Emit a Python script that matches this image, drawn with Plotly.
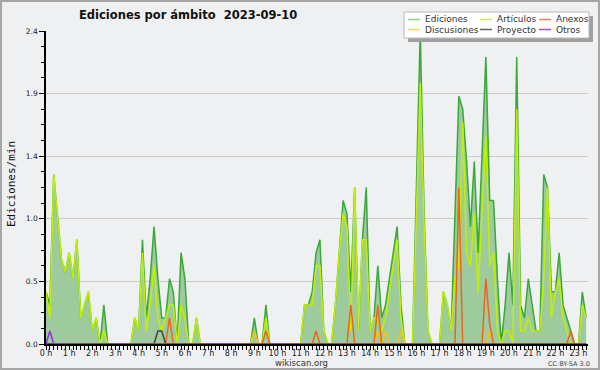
import plotly.graph_objects as go

# 10-minute buckets, edits per minute
ediciones = [
    .4, .3, 1.3, .95, .65, .55, .7, .5, .8, .2,
    .3, .4, .1, .2, 0, .3, 0, 0, 0, 0,
    0, 0, 0, .2, .1, .8, .2, .5, .9, .5,
    .2, .2, .5, .4, 0, .7, .5, 0, 0, .2,
    0, 0, 0, 0, 0, 0, 0, 0, 0, 0,
    0, 0, 0, 0, .2, 0, 0, .3, 0, 0,
    0, 0, 0, 0, 0, 0, 0, .3, .3, .4,
    .7, .8, .1, 0, 0, .3, .7, 1.1, 1.0, .4,
    1.2, .1, .8, 1.2, .1, .2, .6, .2, .3, .5,
    .7, .9, .3, 0, 0, 0, 1.2, 2.4, 1.0, .1,
    0, 0, 0, .4, .3, .1, 1.0, 1.9, 1.8, 1.4,
    .9, 1.4, .7, 1.4, 2.2, 1.1, 1.1, .5, 0, .3,
    .7, .3, 2.2, .3, .2, .5, .3, .1, .1, 1.3,
    1.2, .4, .4, .7, .3, .2, .1, 0, 0, .4,
    .2,
]
articulos = [
    .4, .2, 1.3, .95, .65, .55, .7, .5, .8, .2,
    .3, .4, .1, .2, 0, .1, 0, 0, 0, 0,
    0, 0, 0, .2, .1, .7, .1, .3, .6, .2,
    .1, .2, .3, .3, 0, .3, .2, 0, 0, .2,
    0, 0, 0, 0, 0, 0, 0, 0, 0, 0,
    0, 0, 0, 0, .1, 0, 0, .2, 0, 0,
    0, 0, 0, 0, 0, 0, 0, .3, .3, .3,
    .6, .6, .1, 0, 0, .3, .7, 1.0, .9, .1,
    1.2, .1, .8, .8, .1, .2, .2, .1, .2, .4,
    .6, .8, .2, 0, 0, 0, 1.0, 2.0, .9, .1,
    0, 0, 0, .4, .3, .1, .5, .6, 1.7, .7,
    .6, 1.0, .4, 1.0, 1.6, .6, .7, .1, 0, .1,
    .1, 0, 1.8, .1, .1, .2, .1, .1, .1, .5,
    1.2, .2, .4, .5, .2, .1, 0, 0, 0, .3,
    .2,
]
anexos_idx = [32, 57, 70, 79, 86, 107, 114, 115, 136]
anexos_val = [.2, .1, .1, .3, .3, 1.2, .5, .15, .1]
discusiones_idx = [54, 86, 88, 92, 115]
discusiones_val = [.1, .1, .1, .1, .1]
proyecto_idx = [29, 30]
proyecto_val = [.1, .1]
otros_idx = [1]
otros_val = [.1]

n = len(ediciones)
hours = [i * 10 / 60 for i in range(n)]

def sparse(idx, val):
    out = [0.0] * n
    for i, v in zip(idx, val):
        out[i] = v
    return out

anexos = sparse(anexos_idx, anexos_val)
discusiones = sparse(discusiones_idx, discusiones_val)
proyecto = sparse(proyecto_idx, proyecto_val)
otros = sparse(otros_idx, otros_val)

y_tickvals = [0, 0.48, 0.96, 1.44, 1.92, 2.4]
y_ticktext = ["0.0", "0.5", "1.0", "1.4", "1.9", "2.4"]
x_tickvals = list(range(24))
x_ticktext = [f"{h} h" for h in range(24)]

C_ED, C_AR, C_AN, C_DI, C_PR, C_OT = "#3aa83a", "#c2f000", "#f06418", "#f5c21a", "#444444", "#9a2ee6"

fig = go.Figure()
fig.add_trace(go.Scatter(x=hours, y=ediciones, mode="lines", line=dict(color=C_ED, width=1.5),
                         fill="tozeroy", fillcolor="#9ecb9e", name="Ediciones"))
fig.add_trace(go.Scatter(x=hours, y=articulos, mode="lines", line=dict(color=C_AR, width=1.5), name="Artículos"))
fig.add_trace(go.Scatter(x=hours, y=discusiones, mode="lines", line=dict(color=C_DI, width=1.5), name="Discusiones"))
fig.add_trace(go.Scatter(x=hours, y=anexos, mode="lines", line=dict(color=C_AN, width=1.5), name="Anexos"))
fig.add_trace(go.Scatter(x=hours, y=proyecto, mode="lines", line=dict(color=C_PR, width=1.5), name="Proyecto"))
fig.add_trace(go.Scatter(x=hours, y=otros, mode="lines", line=dict(color=C_OT, width=1.5), name="Otros"))

L, R, T, B = 46, 12, 31, 26
W, H = 600, 370
PW, PH = W - L - R, H - T - B

def xp(px):
    return (px - L) / PW

def yp(py):
    return (H - B - py) / PH

shapes = []
annotations = []
# outer border
shapes.append(dict(type="rect", xref="paper", yref="paper", x0=xp(1), x1=xp(599), y0=yp(369), y1=yp(1),
                   line=dict(color="#a6a6a6", width=2), fillcolor="rgba(0,0,0,0)", layer="above"))
# legend box with shadow
shapes.append(dict(type="rect", xref="paper", yref="paper", x0=xp(408), x1=xp(593), y0=yp(42), y1=yp(16),
                   line=dict(width=0), fillcolor="#a0a0a0", layer="above"))
shapes.append(dict(type="rect", xref="paper", yref="paper", x0=xp(404), x1=xp(589), y0=yp(38), y1=yp(12),
                   line=dict(color="#b8b8b8", width=1), fillcolor="#ffffff", layer="above"))
legend_items = [
    ("Ediciones", "#86d486", 408, 19.5),
    ("Artículos", "#cdec60", 480, 19.5),
    ("Anexos", "#f28050", 539, 19.5),
    ("Discusiones", "#fbd058", 408, 29.5),
    ("Proyecto", "#606060", 480, 29.5),
    ("Otros", "#a050f0", 539, 29.5),
]
for name, col, lx, ly in legend_items:
    shapes.append(dict(type="line", xref="paper", yref="paper", x0=xp(lx), x1=xp(lx + 12), y0=yp(ly), y1=yp(ly),
                       line=dict(color=col, width=1.5), layer="above"))
    annotations.append(dict(text=name, xref="paper", yref="paper", x=xp(lx + 15), y=yp(ly), xanchor="left",
                            yanchor="middle", showarrow=False, font=dict(family="DejaVu Sans", size=9, color="#333")))

annotations.append(dict(text="Ediciones por ámbito \u00a02023-09-10", xref="paper", yref="paper", x=xp(188), y=yp(15),
                        xanchor="center", yanchor="middle", showarrow=False,
                        font=dict(family="DejaVu Sans", size=11.5, color="#111", weight="bold")))
annotations.append(dict(text="Ediciones/min", xref="paper", yref="paper", x=xp(11), y=yp(184), textangle=-90,
                        xanchor="center", yanchor="middle", showarrow=False,
                        font=dict(family="DejaVu Sans Mono", size=11, color="#111")))
annotations.append(dict(text="wikiscan.org", xref="paper", yref="paper", x=xp(301), y=yp(363),
                        xanchor="center", yanchor="middle", showarrow=False,
                        font=dict(family="DejaVu Sans", size=8.5, color="#333")))
annotations.append(dict(text="CC BY-SA 3.0", xref="paper", yref="paper", x=xp(569), y=yp(363.5),
                        xanchor="center", yanchor="middle", showarrow=False,
                        font=dict(family="DejaVu Sans", size=6.5, color="#444")))

fig.update_layout(
    width=W, height=H, margin=dict(l=L, r=R, t=T, b=B, autoexpand=False),
    paper_bgcolor="#eff0f1", plot_bgcolor="#eff0f1", showlegend=False,
    shapes=shapes, annotations=annotations,
)
fig.update_xaxes(range=[0, PW / 23.15], tickmode="array", tickvals=x_tickvals, ticktext=x_ticktext,
                 ticks="outside", ticklen=4, tickwidth=1, tickcolor="#000", ticklabelstandoff=-4,
                 showline=True, linecolor="#000", linewidth=2, showgrid=False, zeroline=False,
                 tickfont=dict(family="DejaVu Sans", size=8, color="#222"),
                 minor=dict(tickmode="linear", tick0=0, dtick=1 / 6, ticks="outside", ticklen=4,
                            tickcolor="#000", tickwidth=1, showgrid=False))
fig.update_yaxes(range=[0, 2.4], tickmode="array", tickvals=y_tickvals, ticktext=y_ticktext,
                 ticks="outside", ticklen=5, tickwidth=1, tickcolor="#000",
                 showline=True, linecolor="#000", linewidth=1.5, showgrid=True, gridcolor="#cccccc",
                 gridwidth=1, zeroline=False,
                 tickfont=dict(family="DejaVu Sans", size=7.5, color="#222"),
                 minor=dict(tickmode="linear", tick0=0, dtick=0.12, ticks="outside", ticklen=3,
                            tickcolor="#000", tickwidth=1, showgrid=False))

fig.write_html("out.html", config={"displayModeBar": False},
               post_script="document.body.style.margin='0px';document.body.style.overflow='hidden';")
